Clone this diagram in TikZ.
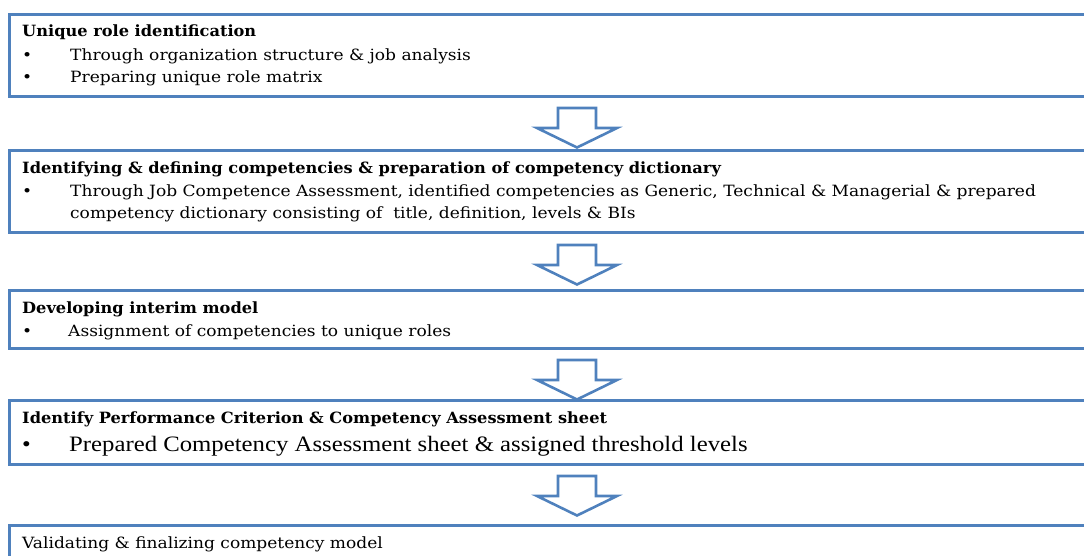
\documentclass[tikz,border=0pt]{standalone}
\usepackage{fontspec}
\setmainfont{DejaVu Serif}
\newfontfamily\bodyfont{DejaVu Serif}[FakeStretch=1.10]
\newfontfamily\headfont{DejaVu Serif}[FakeStretch=1.045]
\newfontfamily\timesfont{Liberation Serif}[FakeStretch=1.125]
\usetikzlibrary{calc}
\definecolor{boxblue}{RGB}{79,129,189}
\begin{document}
\begin{tikzpicture}[x=1pt,y=-1pt,
  stagebox/.style={draw=boxblue, line width=3pt, fill=white, rectangle,
    outer sep=0pt, inner sep=0pt, anchor=north west, minimum width=1120pt},
  title/.style={anchor=base west, inner sep=0pt, font=\headfont\bfseries\fontsize{15.5}{18}\selectfont},
  item/.style={anchor=base west, inner sep=0pt, font=\bodyfont\fontsize{15.5}{18}\selectfont},
  bigitem/.style={anchor=base west, inner sep=0pt, font=\timesfont\fontsize{22}{24}\selectfont},
  arrowline/.style={draw=boxblue, line width=2.6pt, fill=white, line join=miter},
  downarrow/.pic={\draw[arrowline] (-19,0) -- (19,0) -- (19,20) -- (40,20) -- (0,39.5) -- (-40,20) -- (-19,20) -- cycle;}
]
\useasboundingbox (0,0) rectangle (1084,555);
\clip (0,0) rectangle (1084,555);

% stage boxes (open to the right)
\node[stagebox, minimum height=82pt] (b1) at (9,14) {};
\node[stagebox, minimum height=82pt] (b2) at (9,150) {};
\node[stagebox, minimum height=58pt] (b3) at (9,290) {};
\node[stagebox, minimum height=64pt] (b4) at (9,400) {};
\node[stagebox, minimum height=90pt] (b5) at (9,525) {};

% stage 1
\node[title] (t1) at ($(b1.north west)+(13,22)$) {Unique role identification};
\node[item] (p1a) at ($(b1.north west)+(13,46)$) {•};
\node[item] (l1a) at ($(b1.north west)+(61,46)$) {Through organization structure \& job analysis};
\node[item] (p1b) at ($(b1.north west)+(13,68)$) {•};
\node[item] (l1b) at ($(b1.north west)+(61,68)$) {Preparing unique role matrix};

% stage 2
\node[title] (t2) at ($(b2.north west)+(13,23)$) {Identifying \& defining competencies \& preparation of competency dictionary};
\node[item] (p2a) at ($(b2.north west)+(13,46.5)$) {•};
\node[item] (l2a) at ($(b2.north west)+(61,46.5)$) {Through Job Competence Assessment, identified competencies as Generic, Technical \& Managerial \& prepared};
\node[item] (l2b) at ($(b2.north west)+(61,68)$) {competency dictionary consisting of \ title, definition, levels \& BIs};

% stage 3
\node[title] (t3) at ($(b3.north west)+(13,23)$) {Developing interim model};
\node[item] (p3a) at ($(b3.north west)+(13,46.5)$) {•};
\node[item] (l3a) at ($(b3.north west)+(59,46.5)$) {Assignment of competencies to unique roles};

% stage 4
\node[title] (t4) at ($(b4.north west)+(13,23)$) {Identify Performance Criterion \& Competency Assessment sheet};
\node[bigitem] (p4a) at ($(b4.north west)+(13,51.5)$) {•};
\node[bigitem] (l4a) at ($(b4.north west)+(60,51.5)$) {Prepared Competency Assessment sheet \& assigned threshold levels};

% stage 5
\node[item] (t5) at ($(b5.north west)+(13,23)$) {Validating \& finalizing competency model};

% block arrows between stages
\coordinate (axis) at (577,0);
\pic at ($(b1.south -| axis)+(0,12)$) {downarrow};
\pic at ($(b2.south -| axis)+(0,13)$) {downarrow};
\pic at ($(b3.south -| axis)+(0,12)$) {downarrow};
\pic at ($(b4.south -| axis)+(0,12)$) {downarrow};
\end{tikzpicture}
\end{document}
